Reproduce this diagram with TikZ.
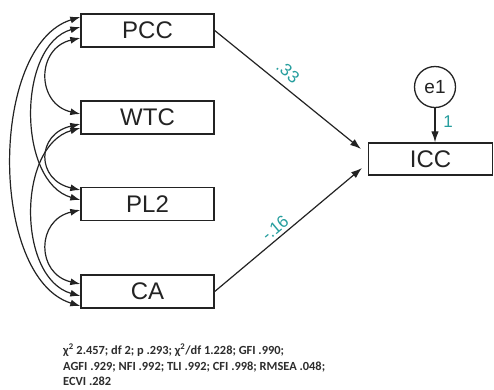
\documentclass[tikz,border=0pt]{standalone}
\usepackage{fontspec}
\setmainfont{Liberation Sans}
\newfontfamily\carl{Carlito}
\usetikzlibrary{arrows.meta,calc}
\definecolor{tealc}{RGB}{38,158,158}
\definecolor{ink}{RGB}{35,35,35}
\definecolor{inktext}{RGB}{45,45,45}
\begin{document}
\begin{tikzpicture}[x=1pt,y=-1pt,
  var/.style={draw=ink,line width=1.4pt,minimum width=133pt,minimum height=33pt,inner sep=0pt,font=\fontsize{24}{24}\selectfont,text=ink},
  cov/.style={{Latex[length=10pt,width=7pt]}-{Latex[length=10pt,width=7pt]},line width=1.2pt,draw=ink},
  regpath/.style={-{Latex[length=11pt,width=7.5pt]},line width=1.2pt,draw=ink},
  coef/.style={text=tealc,font=\fontsize{17}{17}\selectfont,inner sep=0pt},
  fitline/.style={anchor=base west,inner sep=0pt,text=inktext,font=\carl\bfseries\fontsize{12.4}{14}\selectfont}]
\useasboundingbox[fill=white] (0,0) rectangle (494,389);

\node[var] (PCC) at (147.5,30.5) {PCC};
\node[var] (WTC) at (147.5,117.5) {WTC};
\node[var] (PL2) at (147.5,204) {PL2};
\node[var] (CA)  at (147.5,291.5) {CA};
\node[var,minimum width=124pt,minimum height=32pt] (ICC) at (430.5,159) {ICC};
\node[draw=ink,circle,line width=1.3pt,minimum size=41pt,inner sep=0pt,font=\fontsize{19}{19}\selectfont,text=ink] (e1) at (435,87) {e1};

% error arrow
\draw[regpath] (e1.south) -- (e1.south |- ICC.north);
\node[coef] (one) at (448,122) {1};

% regression paths
\coordinate (tA) at (361,149);
\coordinate (tB) at (362,168);
\draw[regpath] (PCC.east) -- (tA);
\draw[regpath] (CA.east) -- (tB);
\node[coef,rotate=-40] (cA) at (288,72) {.33};
\node[coef,rotate=40] (cB) at (275,228) {-.16};

% covariances
\draw[cov] ($(PCC.west)+(0,7.5)$) .. controls (36,48) and (36,104) .. ($(WTC.west)+(0,-3.5)$);
\draw[cov] ($(PCC.west)+(0,-3.5)$) .. controls (17,45) and (17,182) .. ($(PL2.west)+(0,-4)$);
\draw[cov] ($(PCC.west)+(0,-13.5)$) .. controls (-11,45) and (-11,278) .. ($(CA.west)+(0,14.5)$);
\draw[cov] ($(WTC.west)+(0,6.5)$) .. controls (36,134) and (36,180) .. ($(PL2.west)+(0,-14)$);
\draw[cov] ($(WTC.west)+(0,10.5)$) .. controls (17,146) and (17,278) .. ($(CA.west)+(0,4.5)$);
\draw[cov] ($(PL2.west)+(0,6)$) .. controls (36,220) and (36,274) .. ($(CA.west)+(0,-7.5)$);

% fit indices
\node[fitline] (fitA) at (63,354) {χ\textsuperscript{2} 2.457; df 2; p .293; χ\textsuperscript{2}/df 1.228; GFI .990;};
\node[fitline] (fitB) at (63,370) {AGFI .929; NFI .992; TLI .992; CFI .998; RMSEA .048;};
\node[fitline] (fitC) at (63,385.5) {ECVI .282};
\end{tikzpicture}
\end{document}
